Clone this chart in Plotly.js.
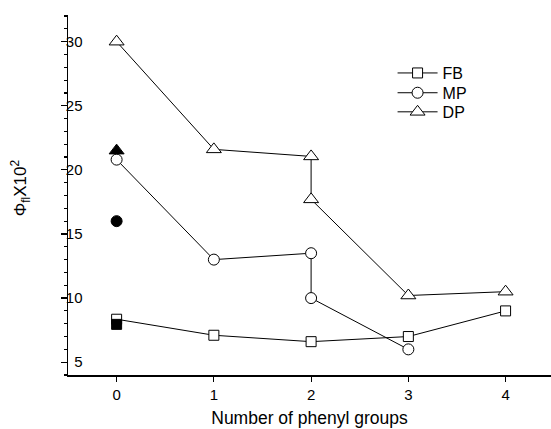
<!DOCTYPE html>
<html>
<head>
<meta charset="utf-8">
<script src="https://cdn.plot.ly/plotly-3.0.1.min.js"></script>
<style>html,body{margin:0;padding:0;background:#fff;}#chart{width:551px;height:429px;}</style>
</head>
<body>
<div id="chart"></div>
<script>
// Data
var fbX = [0, 1, 2, 3, 4];
var fbY = [8.35, 7.1, 6.6, 7.0, 9.0];
var mpX = [0, 1, 2, 2, 3];
var mpY = [20.8, 13.0, 13.5, 10.0, 6.0];
var dpX = [0, 1, 2, 2, 3, 4];
var dpY = [30.0, 21.6, 21.05, 17.7, 10.2, 10.5];
// Filled (solid) points at 0 phenyl groups
var fbSolidX = [0], fbSolidY = [7.95];
var mpSolidX = [0], mpSolidY = [16.0];
var dpSolidX = [0], dpSolidY = [21.5];

var names = ['FB', 'MP', 'DP'];
var tickVals = [0, 1, 2, 3, 4];
var yTickVals = [5, 10, 15, 20, 25, 30];

var font = 'Liberation Sans, Arial, sans-serif';

function openTrace(x, y, name, symbol, size, legendId) {
  return {
    x: x, y: y, name: name, type: 'scatter', mode: 'lines+markers',
    line: {color: '#000', width: 1},
    marker: {symbol: symbol, size: size, color: '#fff', line: {color: '#000', width: 1}},
    showlegend: true, legend: legendId
  };
}
function solidTrace(x, y, symbol, size) {
  return {
    x: x, y: y, type: 'scatter', mode: 'markers', showlegend: false,
    marker: {symbol: symbol, size: size, color: '#000', line: {color: '#000', width: 1}}
  };
}

var data = [
  openTrace(fbX, fbY, names[0], 'square', 10, 'legend'),
  openTrace(mpX, mpY, names[1], 'circle', 11, 'legend2'),
  openTrace(dpX, dpY, names[2], 'triangle-up', 13, 'legend3'),
  solidTrace(fbSolidX, fbSolidY, 'square', 10),
  solidTrace(mpSolidX, mpSolidY, 'circle', 11),
  solidTrace(dpSolidX, dpSolidY, 'triangle-up', 13)
];

function legendAt(y) {
  return {
    x: 0.672, y: y, xanchor: 'left', yanchor: 'top',
    bgcolor: 'rgba(0,0,0,0)', borderwidth: 0,
    font: {family: font, size: 16, color: '#000'},
    itemwidth: 40
  };
}

var layout = {
  width: 551, height: 429,
  margin: {l: 68, r: 0, t: 15, b: 54, pad: 0},
  paper_bgcolor: '#fff', plot_bgcolor: '#fff',
  font: {family: font, color: '#000', size: 15},
  showlegend: true,
  legend: legendAt(0.886),
  legend2: legendAt(0.831),
  legend3: legendAt(0.778),
  xaxis: {
    range: [-0.5, 4.467],
    tickvals: tickVals, ticktext: tickVals.map(String),
    showline: true, linecolor: '#000', linewidth: 1.5,
    ticks: 'outside', ticklen: 5, tickwidth: 1.2, tickcolor: '#000',
    showgrid: false, zeroline: false, mirror: false,
    tickfont: {family: font, size: 15, color: '#000'},
    title: {text: 'Number of phenyl groups', font: {family: font, size: 17.5}, standoff: 10}
  },
  yaxis: {
    range: [4, 32.08],
    tickvals: yTickVals, ticktext: yTickVals.map(String),
    showline: true, linecolor: '#000', linewidth: 1.5,
    ticks: 'outside', ticklen: 6, tickwidth: 1.2, tickcolor: '#000',
    ticklabelstandoff: -25,
    minor: {ticks: 'outside', dtick: 1, tick0: 0, ticklen: 3, tickwidth: 1.2, tickcolor: '#000', showgrid: false},
    showgrid: false, zeroline: false, mirror: false,
    tickfont: {family: font, size: 15, color: '#000'}
  },
  annotations: [{
    text: 'Φ<sub>fl</sub>X10<sup>2</sup>',
    xref: 'paper', yref: 'paper', x: -0.099, y: 0.519,
    xanchor: 'center', yanchor: 'middle', textangle: -90, showarrow: false,
    font: {family: font, size: 17, color: '#000'}
  }]
};

Plotly.newPlot('chart', data, layout, {staticPlot: true, displayModeBar: false});
</script>
</body>
</html>
